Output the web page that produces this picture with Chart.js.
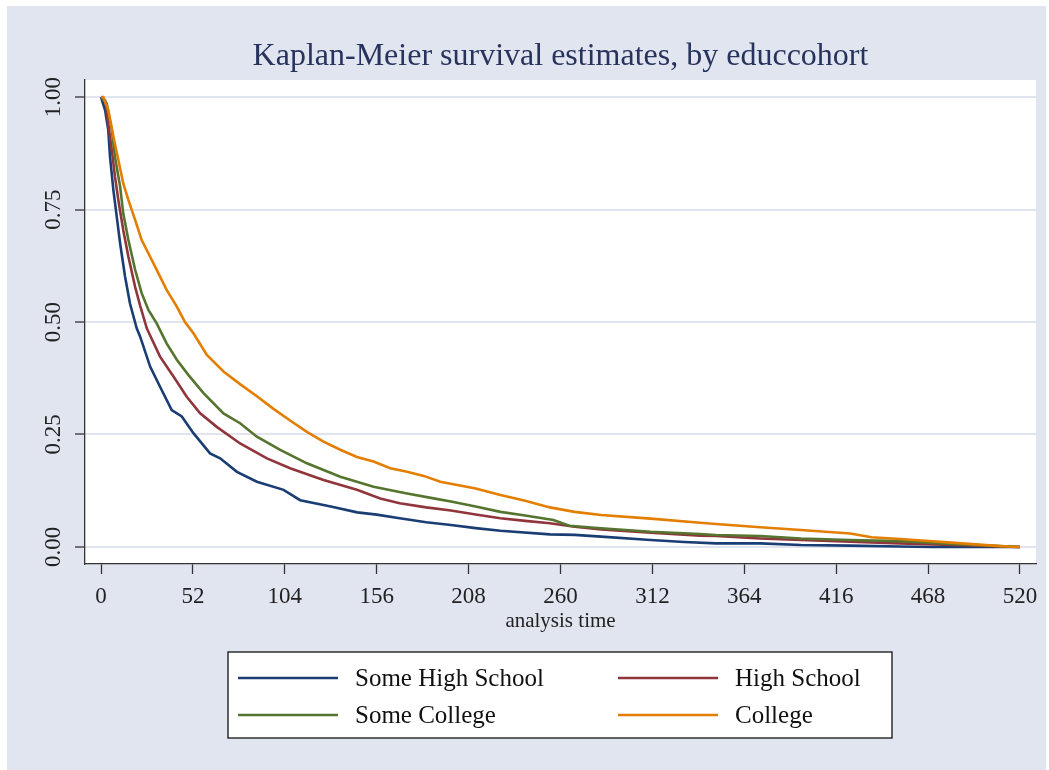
<!DOCTYPE html>
<html>
<head>
<meta charset="utf-8">
<title>Kaplan-Meier survival estimates</title>
<script src="https://cdn.jsdelivr.net/npm/chart.js@4.4.1/dist/chart.umd.min.js"></script>
<style>
    body { margin: 0; background: #ffffff; }
    #wrap { width: 1049px; height: 770px; }
</style>
</head>
<body>
<div id="wrap"><canvas id="kmChart" width="1049" height="770"></canvas></div>
<script>
// values (weeks, survival)
const xTicks = [0, 52, 104, 156, 208, 260, 312, 364, 416, 468, 520];
const yTicks = [0, 0.25, 0.5, 0.75, 1];

const someHsWeeks = [0, 2.3, 4.1, 5.1, 7, 8.9, 10.8, 13.6, 16.4, 20.2, 22.1, 27.8, 33.4, 40, 45.7, 52.3, 61.7, 67.4, 76.9, 88.2, 103.3, 112.7, 130, 145, 156, 169, 184, 198, 212, 226, 254, 268, 283, 311, 330, 348, 373, 396, 424, 452, 470, 520];
const someHsSurv = [1, 0.971, 0.927, 0.867, 0.793, 0.734, 0.675, 0.601, 0.541, 0.486, 0.468, 0.401, 0.356, 0.304, 0.29, 0.253, 0.208, 0.197, 0.167, 0.145, 0.127, 0.104, 0.09, 0.077, 0.072, 0.064, 0.055, 0.049, 0.042, 0.036, 0.028, 0.027, 0.023, 0.0156, 0.011, 0.008, 0.008, 0.0044, 0.003, 0.001, 0, 0];

const hsWeeks = [0, 2.3, 4.1, 6.1, 7.9, 9.8, 12.6, 15.5, 19.3, 22.1, 25.9, 27.8, 33.4, 41, 48.5, 56.1, 65.5, 78.7, 93.9, 107, 125.9, 144.8, 158, 169, 184, 198, 212, 226, 240, 254, 268, 283, 311, 339, 348, 373, 396, 424, 452, 481, 509, 520];
const hsSurv = [1, 0.993, 0.941, 0.882, 0.823, 0.771, 0.704, 0.645, 0.578, 0.537, 0.486, 0.47, 0.423, 0.379, 0.334, 0.297, 0.267, 0.23, 0.197, 0.175, 0.149, 0.127, 0.108, 0.097, 0.088, 0.081, 0.072, 0.064, 0.058, 0.0526, 0.045, 0.039, 0.032, 0.025, 0.0244, 0.019, 0.0156, 0.0118, 0.008, 0.0044, 0.001, 0];

const someColWeeks = [0, 3.2, 6.1, 7.9, 10.8, 12.6, 15.5, 19.3, 23, 26.8, 31.5, 37.2, 42.9, 49.5, 58, 69.3, 78.7, 88.2, 101.4, 116.5, 135.4, 154.2, 173.2, 188.2, 198, 212, 226, 240, 256, 265, 283, 311, 339, 348, 373, 396, 424, 452, 481, 509, 520];
const someColSurv = [1, 0.986, 0.927, 0.867, 0.801, 0.741, 0.682, 0.616, 0.564, 0.527, 0.497, 0.452, 0.416, 0.382, 0.342, 0.297, 0.275, 0.245, 0.216, 0.186, 0.156, 0.134, 0.119, 0.108, 0.101, 0.09, 0.078, 0.07, 0.06, 0.047, 0.0415, 0.034, 0.029, 0.0267, 0.0244, 0.019, 0.0156, 0.013, 0.0067, 0.002, 0];

const collegeWeeks = [0, 1.3, 4.1, 7, 9.8, 12.6, 15.5, 19.3, 23, 27.8, 32.5, 37.2, 42.9, 47.5, 52.3, 59.9, 69.3, 78.7, 88.2, 97.6, 107, 116.5, 125.9, 135.4, 144.8, 154.2, 163.7, 173.2, 182.6, 192, 212, 226, 240, 254, 268, 283, 311, 339, 348, 373, 396, 424, 436, 452, 481, 509, 520];
const collegeSurv = [1, 1, 0.971, 0.912, 0.86, 0.808, 0.771, 0.727, 0.682, 0.645, 0.608, 0.571, 0.534, 0.5, 0.475, 0.427, 0.39, 0.362, 0.335, 0.307, 0.281, 0.256, 0.234, 0.216, 0.2, 0.19, 0.175, 0.167, 0.158, 0.145, 0.13, 0.1156, 0.103, 0.088, 0.078, 0.071, 0.063, 0.054, 0.051, 0.0437, 0.0378, 0.03, 0.0215, 0.0178, 0.0096, 0.002, 0];

const seriesNames = ['Some High School', 'High School', 'Some College', 'College'];
const seriesColors = ['#1a3d73', '#90353b', '#55752f', '#e37e00'];

const FONT = "'Liberation Serif', 'Times New Roman', serif";

function toPoints(weeks, surv) {
    return weeks.map((w, i) => ({ x: w, y: surv[i] }));
}

// backgrounds, title, rotated y labels and the legend box
const stataFrame = {
    id: 'stataFrame',
    beforeDraw(chart) {
        const ctx = chart.ctx;
        const a = chart.chartArea;
        ctx.save();
        ctx.fillStyle = '#ffffff';
        ctx.fillRect(0, 0, chart.width, chart.height);
        ctx.fillStyle = '#e0e5f0';
        ctx.fillRect(7, 6, 1039, 764);
        ctx.fillStyle = '#ffffff';
        ctx.fillRect(a.left, a.top, a.right - a.left, a.bottom - a.top);
        ctx.restore();
    },
    afterDraw(chart) {
        const ctx = chart.ctx;
        const a = chart.chartArea;
        const yScale = chart.scales.y;
        ctx.save();

        // title
        ctx.fillStyle = '#27335c';
        ctx.font = '32px ' + FONT;
        ctx.textAlign = 'center';
        ctx.textBaseline = 'alphabetic';
        ctx.fillText('Kaplan-Meier survival estimates, by educcohort', (a.left + a.right) / 2, 65);

        // y tick labels, read bottom to top
        ctx.fillStyle = '#222222';
        ctx.font = '23px ' + FONT;
        ctx.textBaseline = 'middle';
        yTicks.forEach(v => {
            ctx.save();
            ctx.translate(54, yScale.getPixelForValue(v));
            ctx.rotate(-Math.PI / 2);
            ctx.fillText(v.toFixed(2), 0, 0);
            ctx.restore();
        });

        // legend
        const box = { x: 228, y: 652, w: 664, h: 86 };
        ctx.fillStyle = '#ffffff';
        ctx.fillRect(box.x, box.y, box.w, box.h);
        ctx.strokeStyle = '#111111';
        ctx.lineWidth = 1.3;
        ctx.strokeRect(box.x, box.y, box.w, box.h);

        const cols = [238, 618];
        const rows = [678, 715];
        ctx.font = '25px ' + FONT;
        ctx.textAlign = 'left';
        seriesNames.forEach((name, i) => {
            const lx = cols[i % 2];
            const ly = rows[Math.floor(i / 2)];
            ctx.strokeStyle = seriesColors[i];
            ctx.lineWidth = 2.4;
            ctx.beginPath();
            ctx.moveTo(lx, ly);
            ctx.lineTo(lx + 100, ly);
            ctx.stroke();
            ctx.fillStyle = '#111111';
            ctx.fillText(name, lx + 117, ly + 1);
        });
        ctx.restore();
    }
};

document.addEventListener('DOMContentLoaded', function () {
    const ctx = document.getElementById('kmChart').getContext('2d');

    const allWeeks = [someHsWeeks, hsWeeks, someColWeeks, collegeWeeks];
    const allSurv = [someHsSurv, hsSurv, someColSurv, collegeSurv];

    const kmChart = new Chart(ctx, {
        type: 'line',
        data: {
            datasets: seriesNames.map((name, i) => ({
                label: name,
                data: toPoints(allWeeks[i], allSurv[i]),
                borderColor: seriesColors[i],
                backgroundColor: seriesColors[i],
                borderWidth: 2.6,
                pointRadius: 0,
                tension: 0,
                fill: false,
                order: 4 - i
            }))
        },
        options: {
            responsive: false,
            animation: false,
            layout: {
                padding: { left: 0, top: 80, right: 13, bottom: 136 }
            },
            scales: {
                x: {
                    type: 'linear',
                    min: -9.06,
                    max: 529.06,
                    afterBuildTicks: scale => {
                        scale.ticks = xTicks.map(v => ({ value: v }));
                    },
                    afterFit: scale => {
                        scale.height = 70;
                    },
                    ticks: {
                        font: { family: FONT, size: 23 },
                        color: '#222222',
                        padding: 9,
                        maxRotation: 0,
                        autoSkip: false
                    },
                    grid: {
                        drawOnChartArea: false,
                        drawTicks: true,
                        tickLength: 10,
                        tickColor: '#333333',
                        tickWidth: 1.3,
                        color: '#333333'
                    },
                    border: { display: true, color: '#333333', width: 1.3 },
                    title: {
                        display: true,
                        text: 'analysis time',
                        font: { family: FONT, size: 21 },
                        color: '#222222',
                        padding: { top: 0, bottom: 0 }
                    }
                },
                y: {
                    type: 'linear',
                    min: -0.0378,
                    max: 1.0378,
                    afterBuildTicks: scale => {
                        scale.ticks = yTicks.map(v => ({ value: v }));
                    },
                    afterFit: scale => {
                        scale.width = 85;
                    },
                    ticks: { display: false },
                    grid: {
                        color: '#dfe4ef',
                        lineWidth: 2,
                        drawTicks: true,
                        tickLength: 10,
                        tickColor: '#333333',
                        tickWidth: 1.3
                    },
                    border: { display: true, color: '#333333', width: 1.3 }
                }
            },
            plugins: {
                legend: { display: false },
                tooltip: { enabled: false }
            }
        },
        plugins: [stataFrame]
    });
});
</script>
</body>
</html>
